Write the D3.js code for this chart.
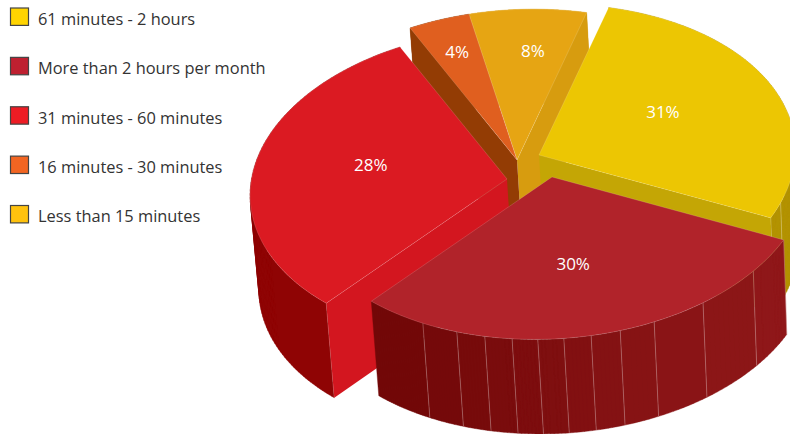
<!DOCTYPE html>
<html><head><meta charset="utf-8"><script src="https://cdn.jsdelivr.net/npm/d3@7"></script>
<style>body{margin:0;background:#fff;overflow:hidden}text{font-family:"Open Sans",sans-serif}</style></head>
<body><svg id="chart" width="790" height="434"></svg>
<script>
// Survey shares, in legend order
const categories=["61 minutes - 2 hours","More than 2 hours per month","31 minutes - 60 minutes","16 minutes - 30 minutes","Less than 15 minutes"];
const percentages=[31,30,28,4,8];

// Palette
const swatchColors=["#ffd400","#be2030","#ed1c24","#f26522","#ffc20e"];
const topColors=["#ecc603","#b1232a","#db1a22","#e05f1f","#e6a513"];
const wallColors=["#b39300","#8f1719","#8f0404","#933c04","#d79c0f"];
const wallShadeEnd=[null,"#720808",null,null,null];
const startFaceColors=[null,null,"#d3161f","#933c04",null];
const endFaceColors=["#c4a605",null,null,null,"#d79c0f"];

// Layout of the exploded pie
const center=[525,170];
const explode=[[14,-15],[27,7],[-18,9],[-8,-10],[-8,-10]];
const labelRadius=[.55,.55,.55,.77,.72];
const labelAlong=[.5,.365,.57,.5,.59];
const drawOrder=[4,3,0,2,1];
const wallFacets=[[.9,.96],[.086,.185,.265,.318,.364,.409,.455,.505,.566,.642,.764],[],[],[]];
const cornerEdge=[1,0,0,null,null];

// Tilted-disc projection: planar matrix, perspective terms, angular lens terms
const matrix=[255.13,25,-25.63,154.31];
const perspective=[.005,-.0365];
const startAngle=.3087;
const lens=[-.0008,.1479,-.0108,-.0619];
const depth={height:94.5,shear:8,shearSlope:.0108,shearOrigin:326};

function project(angle){
  const a=angle+lens[0]*Math.sin(2*angle)+lens[1]*Math.cos(2*angle)+lens[2]*Math.sin(3*angle)+lens[3]*Math.cos(3*angle);
  const X=Math.sin(a),Y=-Math.cos(a),w=1+perspective[0]*X+perspective[1]*Y;
  return [(matrix[0]*X+matrix[1]*Y)/w,(matrix[2]*X+matrix[3]*Y)/w];
}

const svg=d3.select("#chart");
const line=d3.line();
const arcs=d3.pie().sort(null).startAngle(startAngle).endAngle(startAngle+2*Math.PI).value(d=>d)(percentages);
const apexes=explode.map(e=>[center[0]+e[0],center[1]+e[1]]);

const onSlice=(i,angle,r=1)=>{const q=project(angle);return [apexes[i][0]+q[0]*r,apexes[i][1]+q[1]*r];};
const drop=q=>[q[0]+depth.shear-(q[0]-depth.shearOrigin)*depth.shearSlope,q[1]+depth.height];
const arcPoints=(i,a0,a1,n)=>d3.range(n+1).map(j=>onSlice(i,a0+(a1-a0)*j/n));

// Slices are painted back to front: outer wall, cut faces, then the top
drawOrder.forEach(i=>{
  const A=arcs[i],g=svg.append("g");
  const along=t=>A.startAngle+(A.endAngle-A.startAngle)*t;
  const bounds=[0,...wallFacets[i],1];
  d3.pairs(bounds).forEach(([u,v],k)=>{
    const top=arcPoints(i,along(u),along(v),Math.ceil((v-u)*90)+2);
    const shade=wallShadeEnd[i]?d3.interpolateRgb(wallColors[i],wallShadeEnd[i])(k/(bounds.length-2)):wallColors[i];
    // One path of same-wound quads keeps the curved silhouette filled without seams
    const strips=d3.pairs(top).map(([p,q])=>{
      const quad=[p,q,drop(q),drop(p)];
      return line(d3.polygonArea(quad)<0?quad.reverse():quad)+"Z";
    }).join("");
    g.append("path").attr("d",strips).attr("fill",shade).attr("stroke",shade).attr("stroke-width",.4);
  });
  const edges=cornerEdge[i]===null?[]:[...wallFacets[i],cornerEdge[i]];
  edges.forEach(t=>{
    const q=onSlice(i,along(t));
    g.append("path").attr("d",line([q,drop(q)])).attr("stroke","#fff").attr("stroke-opacity",.32).attr("stroke-width",.8).attr("fill","none");
  });
  const ap=apexes[i];
  [[startFaceColors[i],A.startAngle],[endFaceColors[i],A.endAngle]].forEach(([color,angle])=>{
    if(!color)return;
    const e=onSlice(i,angle);
    g.append("path").attr("d",line([ap,e,drop(e),drop(ap)])+"Z").attr("fill",color);
  });
  g.append("path").attr("d",line([ap,...arcPoints(i,A.startAngle,A.endAngle,80)])+"Z")
    .attr("fill",topColors[i]).attr("stroke","#fff").attr("stroke-opacity",.25).attr("stroke-width",.6);
});

// Percentage labels
arcs.forEach((A,i)=>{
  const q=onSlice(i,A.startAngle+(A.endAngle-A.startAngle)*labelAlong[i],labelRadius[i]);
  svg.append("text").attr("x",q[0]).attr("y",q[1]).attr("dy",".35em").attr("text-anchor","middle")
    .attr("fill","#fff").attr("font-size",17).text(A.data+"%");
});

// Legend
const rowY=d3.scalePoint().domain(categories).range([18,215.5]);
categories.forEach((c,i)=>{
  const y=rowY(c);
  svg.append("rect").attr("x",10.5).attr("y",y-10).attr("width",18).attr("height",17.4)
    .attr("fill",swatchColors[i]).attr("stroke","#444").attr("stroke-width",1.2);
  svg.append("text").attr("x",38).attr("y",y).attr("dy",".42em").attr("fill","#333").attr("font-size",16.4).text(c);
});
</script></body></html>
